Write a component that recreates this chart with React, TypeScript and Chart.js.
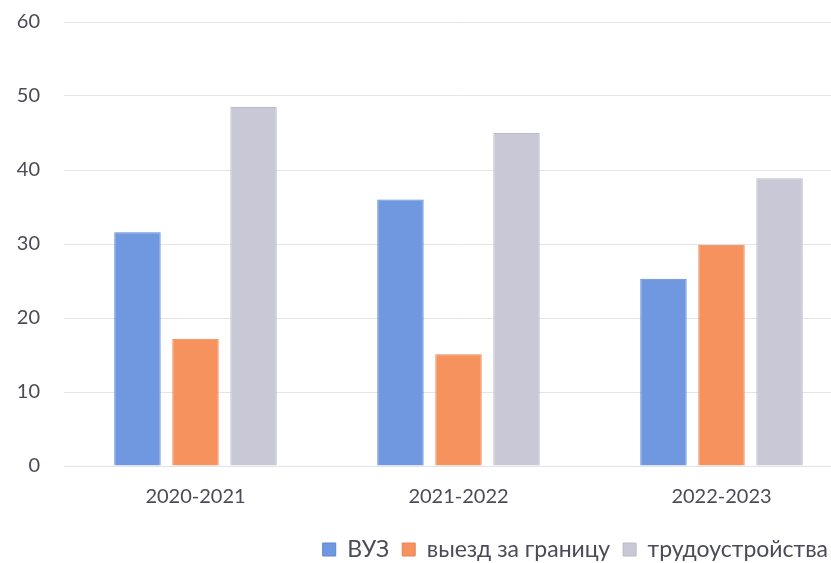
import React, { useEffect, useRef } from "react";
import { Chart, registerables } from "chart.js";

Chart.register(...registerables);

const categories = ["2020-2021", "2021-2022", "2022-2023"];
const seriesLabels = ["ВУЗ", "выезд за границу", "трудоустройства"];
const vuzValues = [31.6, 36.0, 25.3];
const abroadValues = [17.2, 15.1, 29.9];
const employmentValues = [48.5, 45.0, 38.9];
const yMin = 0;
const yMax = 60;
const yStep = 10;

const colors = ["#6f98e0", "#f5925e", "#c8c8d6"];
const borders = ["#5a86d6", "#ee8350", "#b9b9c9"];

const FONT = "Lato, 'Open Sans', 'Noto Sans', sans-serif";
const TEXT = "#4a4b57";

const legendShift = {
  id: "legendShift",
  afterLayout(chart: any) {
    const lg = chart.legend;
    if (lg) {
      lg.left -= 12;
      lg.right -= 12;
    }
  },
};

export default function App() {
  const ref = useRef<HTMLCanvasElement | null>(null);

  useEffect(() => {
    if (!ref.current) return;
    const values = [vuzValues, abroadValues, employmentValues];
    const chart = new Chart(ref.current, {
      type: "bar",
      data: {
        labels: categories,
        datasets: seriesLabels.map((label, i) => ({
          label,
          data: values[i],
          backgroundColor: colors[i],
          borderColor: borders[i],
          borderWidth: 1,
          categoryPercentage: 0.662,
          barPercentage: 0.8,
        })),
      },
      options: {
        animation: false,
        responsive: false,
        devicePixelRatio: 1,
        layout: { padding: { top: 22, left: 0, right: 0, bottom: 0 } },
        plugins: {
          tooltip: { enabled: false },
          legend: {
            position: "bottom",
            align: "end",
            labels: {
              boxWidth: 13,
              boxHeight: 13,
              padding: 13,
              color: TEXT,
              font: { family: FONT, size: 23 },
            },
          },
        },
        scales: {
          x: {
            grid: { display: false, drawTicks: false },
            border: { display: true, color: "#e2e2e8", width: 1 },
            ticks: {
              color: TEXT,
              padding: 19,
              font: { family: FONT, size: 20 },
            },
            afterFit(scale: any) {
              scale.height = 59;
            },
          },
          y: {
            min: yMin,
            max: yMax,
            ticks: {
              stepSize: yStep,
              color: TEXT,
              padding: 24,
              font: { family: FONT, size: 20 },
            },
            grid: { color: "#e4e4ea", lineWidth: 1, drawTicks: false },
            border: { display: false },
            afterFit(scale: any) {
              scale.width = 64;
              scale.paddingTop = 0;
              scale.paddingBottom = 0;
            },
          },
        },
      },
      plugins: [legendShift],
    });
    return () => chart.destroy();
  }, []);

  return (
    <div
      style={{
        position: "fixed",
        left: 0,
        top: 0,
        width: 831,
        height: 563,
        overflow: "hidden",
        background: "#ffffff",
      }}
    >
      <canvas ref={ref} width={853} height={571} style={{ width: 853, height: 571, display: "block" }} />
    </div>
  );
}
